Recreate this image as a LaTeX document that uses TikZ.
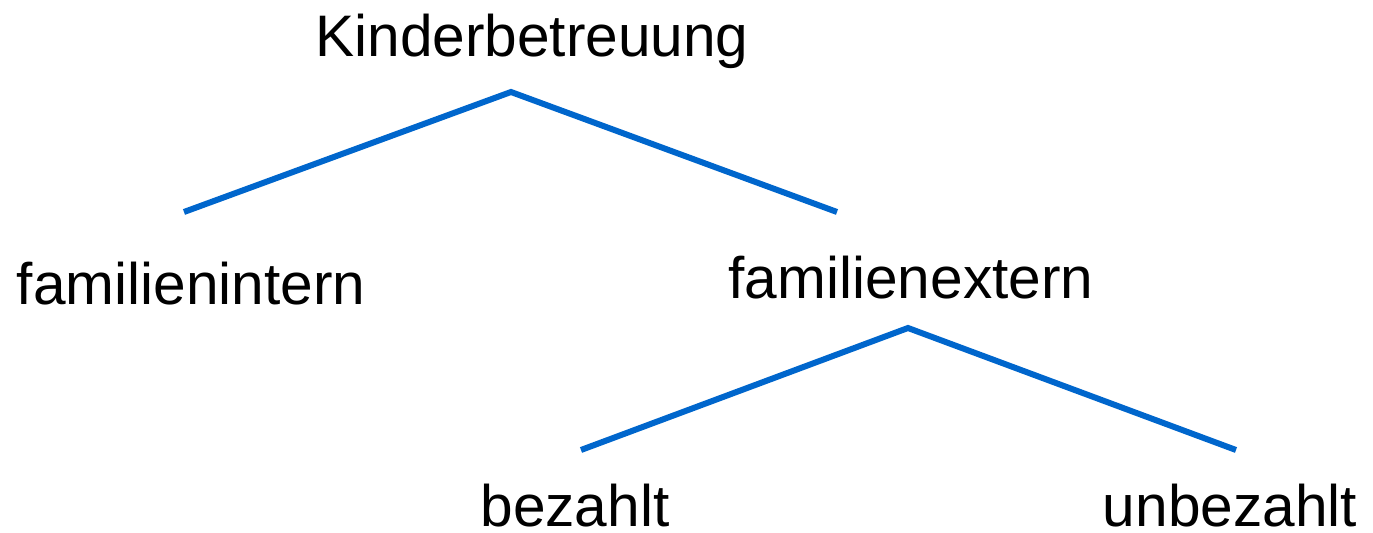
\documentclass[tikz,border=0pt]{standalone}
\usepackage{fontspec}
\setmainfont{Liberation Sans}
\definecolor{treeblue}{HTML}{0066CC}
\begin{document}
\begin{tikzpicture}[x=0.5pt,y=-0.5pt,
  lbl/.style={anchor=base,inner sep=0pt,font=\fontsize{29.3}{34}\selectfont},
  branch/.style={draw=treeblue,line width=3pt}]
\useasboundingbox (0,0) rectangle (1373,533);
\node[lbl] (kb) at (532,57) {Kinderbetreuung};
\node[lbl] (fi) at (191,305) {familienintern};
\node[lbl] (fe) at (911,299) {familienextern};
\node[lbl,text depth=0pt] (bz) at (575,527) {bezahlt};
\node[lbl,text depth=0pt] (ub) at (1230,527) {unbezahlt};
\coordinate (a1) at (511,92);
\coordinate (l1) at (184,212);
\coordinate (r1) at (837,212);
\coordinate (a2) at (908,328);
\coordinate (l2) at (581,450);
\coordinate (r2) at (1236,450);
\draw[branch] (l1) -- (a1) -- (r1);
\draw[branch] (l2) -- (a2) -- (r2);
\end{tikzpicture}
\end{document}
